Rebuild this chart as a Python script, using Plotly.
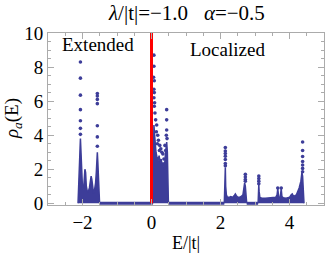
import plotly.graph_objects as go

# ---------------- data ----------------
# dense parts of the bands: upper envelope of the point cloud
band1_E = [-2.13, -2.11, -2.09, -2.075, -2.06, -2.045, -2.03, -2.0, -1.97, -1.95, -1.93, -1.91, -1.89,
           -1.86, -1.83, -1.80, -1.77, -1.75, -1.73, -1.71, -1.68, -1.65, -1.62, -1.60, -1.585, -1.57,
           -1.555, -1.54, -1.52, -1.505]
band1_rho = [0, 0.8, 1.6, 3.0, 3.8, 3.0, 1.4, 0.9, 0.8, 1.5, 2.0, 1.8, 1.0,
             0.7, 0.7, 0.9, 1.4, 1.6, 1.4, 0.9, 0.6, 0.8, 1.2, 1.8, 2.6, 3.0,
             2.4, 1.2, 0.5, 0]

band2_E = [0.04, 0.05, 0.07, 0.09, 0.11, 0.13, 0.16, 0.19, 0.22, 0.25, 0.28, 0.31, 0.34, 0.37,
           0.40, 0.42, 0.44, 0.46, 0.48, 0.49]
band2_rho = [0, 3.5, 4.6, 4.0, 3.2, 3.0, 2.7, 2.5, 2.8, 2.4, 2.6, 2.2, 2.4, 2.0,
             2.8, 3.3, 3.6, 3.0, 1.5, 0]

band3_E = [2.11, 2.12, 2.13, 2.14, 2.15, 2.17, 2.2, 2.25, 2.3, 2.35, 2.4, 2.43, 2.46, 2.5, 2.55,
           2.6, 2.65, 2.68, 2.70, 2.72, 2.74, 2.76]
band3_rho = [0, 0.6, 1.5, 2.1, 1.0, 0.5, 0.35, 0.35, 0.4, 0.35, 0.45, 0.55, 0.45, 0.35, 0.35,
             0.4, 0.5, 0.8, 1.2, 1.0, 0.5, 0]

band4_E = [3.09, 3.10, 3.11, 3.12, 3.14, 3.2, 3.3, 3.4, 3.5, 3.6, 3.64, 3.66, 3.68, 3.71, 3.74,
           3.76, 3.78, 3.82, 3.9, 4.0, 4.05, 4.08, 4.12, 4.2, 4.28, 4.33, 4.36, 4.38, 4.40, 4.42]
band4_rho = [0, 0.6, 1.1, 0.7, 0.35, 0.3, 0.3, 0.32, 0.3, 0.35, 0.5, 0.85, 0.5, 0.05, 0.5,
             0.85, 0.4, 0.32, 0.3, 0.35, 0.5, 0.55, 0.4, 0.5, 0.9, 1.3, 1.8, 1.6, 0.8, 0]

# sparse points above the dense parts
tips_E = [-2.06, -2.06, -2.06, -2.06, -2.06, -2.06, -2.06,
          -1.57, -1.57, -1.57, -1.57, -1.57, -1.57, -1.57,
          0.07, 0.07, 0.06, 0.08, 0.07, 0.08, 0.07, 0.09, 0.08, 0.10, 0.12, 0.15, 0.14, 0.18,
          0.20, 0.17, 0.24, 0.27, 0.30, 0.33, 0.23, 0.36, 0.44, 0.44, 0.44, 0.43, 0.45, 0.39, 0.41,
          2.14, 2.14, 2.14, 2.14, 2.14, 2.14, 2.14,
          2.72, 2.72, 2.72, 2.72,
          3.11, 3.11, 3.11, 3.11,
          3.66, 3.76,
          4.38, 4.38, 4.38, 4.38, 4.38, 4.38, 4.38]
tips_rho = [8.3, 7.35, 6.35, 5.5, 4.85, 4.4, 4.05,
            6.45, 6.3, 6.1, 5.85, 4.55, 3.9, 3.35,
            8.7, 8.05, 7.4, 7.2, 6.7, 6.5, 6.2, 5.9, 5.7, 5.3, 4.9, 4.6, 4.2, 4.0,
            3.7, 3.5, 3.4, 3.2, 3.0, 2.9, 3.1, 2.6, 5.5, 4.9, 4.3, 4.0, 3.8, 3.4, 3.1,
            3.27, 3.07, 2.92, 2.76, 2.57, 2.33, 2.2,
            1.7, 1.55, 1.4, 1.3,
            1.6, 1.45, 1.3, 1.15,
            0.9, 0.9,
            3.6, 3.1, 2.75, 2.45, 2.25, 2.05, 1.85]

# zero-density gaps (points sitting on rho = 0)
gap_E = [[-1.505, 0.04], [0.49, 2.11], [2.76, 3.09]]

title_text = "<i>λ</i>/|t|=−1.0\u00a0\u00a0\u00a0<i>α</i>=−0.5"
x_label = "E/|t|"
y_label = "<i>ρ</i><sub><i>a</i></sub>(E)"
region_labels = ["Extended", "Localized"]
region_pos = [[-1.55, 9.35], [2.2, 9.05]]
x_ticks = [-2, 0, 2, 4]
x_ticktext = ["−2", "0", "2", "4"]
y_ticks = [0, 2, 4, 6, 8, 10]

# ---------------- styling ----------------
BLUE = "#3d3d99"
GRAY = "#ababab"
FONT = "Liberation Serif, Times New Roman, serif"

fig = go.Figure()

for xs in gap_E:
    fig.add_trace(go.Scatter(x=xs, y=[0, 0], mode="lines",
                             line=dict(color=BLUE, width=3), hoverinfo="skip"))

for E, r in [(band1_E, band1_rho), (band2_E, band2_rho), (band3_E, band3_rho), (band4_E, band4_rho)]:
    fig.add_trace(go.Scatter(x=E, y=r, mode="lines", fill="tozeroy",
                             fillcolor=BLUE, line=dict(color=BLUE, width=1.5)))

fig.add_trace(go.Scatter(x=tips_E, y=tips_rho, mode="markers",
                         marker=dict(color=BLUE, size=3.6), cliponaxis=False))

# red separator at E = 0
fig.add_trace(go.Scatter(x=[0, 0], y=[0, 10], mode="lines",
                         line=dict(color="#ff0000", width=3)))

axis_common = dict(showgrid=False, zeroline=False, showline=True, linecolor=GRAY, linewidth=1,
                   mirror="ticks", ticks="inside", tickcolor=GRAY, ticklen=6, tickwidth=1,
                   tickfont=dict(family=FONT, size=19, color="black"))

fig.update_xaxes(range=[-3, 5], tickvals=x_ticks, ticktext=x_ticktext,
                 minor=dict(dtick=0.5, ticks="inside", ticklen=3, tickcolor=GRAY), **axis_common)
fig.update_yaxes(range=[-0.1, 10], tickvals=y_ticks,
                 minor=dict(dtick=0.5, ticks="inside", ticklen=3, tickcolor=GRAY), **axis_common)

PLOT_H = 171.7
ann = [
    dict(text=title_text, x=0.5, y=1.0 + (33 - 13) / PLOT_H, xref="paper", yref="paper",
         showarrow=False, xanchor="center", yanchor="middle",
         font=dict(family=FONT, size=21, color="black")),
    dict(text=x_label, x=0.5, xref="paper", y=-(243 - 204.7) / PLOT_H, yref="paper",
         showarrow=False, xanchor="center", yanchor="middle",
         font=dict(family=FONT, size=18, color="black")),
    dict(text=y_label, x=-(48 - 13) / 276.0, xref="paper", y=0.5, yref="paper", showarrow=False,
         textangle=-90, xanchor="center", yanchor="middle",
         font=dict(family=FONT, size=19, color="black")),
]
for t, (px, py) in zip(region_labels, region_pos):
    ann.append(dict(text=t, x=px, y=py, xref="x", yref="y", showarrow=False,
                    xanchor="center", yanchor="middle",
                    font=dict(family=FONT, size=19, color="black")))

fig.update_layout(width=327, height=254, margin=dict(l=48, r=3, t=33, b=49.3),
                  paper_bgcolor="white", plot_bgcolor="white", showlegend=False,
                  annotations=ann)

fig.write_html("out.html", config={"displayModeBar": False, "staticPlot": True},
               post_script="document.body.style.margin='0';document.body.style.overflow='hidden';")
